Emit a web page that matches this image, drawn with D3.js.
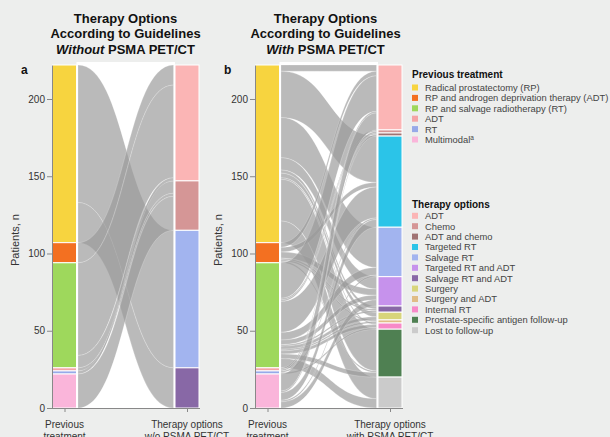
<!DOCTYPE html>
<html>
<head>
<meta charset="utf-8">
<script src="https://cdn.jsdelivr.net/npm/d3@7"></script>
<style>
  body { margin: 0; background: #edeeed; }
  svg { display: block; font-family: "Liberation Sans", Arial, sans-serif; }
</style>
</head>
<body>
<svg id="chart" width="610" height="437"></svg>
<script>
// previous treatment strata (left axis, top to bottom)
const previousTreatments = [
  "Radical prostatectomy (RP)",
  "RP and androgen deprivation therapy (ADT)",
  "RP and salvage radiotherapy (RT)",
  "ADT",
  "RT",
  "Multimodal"
];
const previousColors = ["#f7d43f", "#f37021", "#9ed85c", "#f5a4a6", "#97a9e8", "#fab5da"];

// therapy options strata (right axis, top to bottom)
const therapyOptions = [
  "ADT", "Chemo", "ADT and chemo", "Targeted RT", "Salvage RT",
  "Targeted RT and ADT", "Salvage RT and ADT", "Surgery", "Surgery and ADT",
  "Internal RT", "Prostate-specific antigen follow-up", "Lost to follow-up"
];
const therapyColors = [
  "#fbb5b5", "#d59696", "#a07373", "#2bc4e8", "#a2b4ef",
  "#c692ec", "#8868a6", "#d8d57b", "#e0bd86",
  "#f78ac8", "#4f8052", "#cbcbcb"
];

const optionsWithout = ["ADT", "Chemo", "Salvage RT", "Salvage RT and ADT"];

// patients: rows = previous treatment, columns = option
const flowsWithout = [
  [0, 0, 89, 26],
  [13, 0, 0, 0],
  [60, 8, 0, 0],
  [0, 2, 0, 0],
  [2, 0, 0, 0],
  [0, 22, 0, 0]
];
const flowsWith = [
  [4, 0, 0, 30, 26, 8, 2, 3, 0, 1, 27, 14],
  [3, 0, 0, 3, 0, 4, 1, 0, 1, 0, 1, 0],
  [23, 1, 1, 20, 5, 3, 1, 2, 1, 2, 3, 6],
  [1, 1, 0, 0, 0, 0, 0, 0, 0, 0, 0, 0],
  [0, 0, 0, 1, 0, 0, 0, 0, 0, 1, 0, 0],
  [11, 0, 1, 5, 1, 4, 0, 0, 0, 0, 0, 0]
];

const yTicks = [0, 50, 100, 150, 200];

const svg = d3.select("#chart");
const baseY = 408, topY = 65;
const barW = 24;

function drawPanel(opts) {
  const g = svg.append("g");
  const flows = opts.flows;
  const rightNames = opts.rightNames;
  const rightColors = rightNames.map(n => therapyColors[therapyOptions.indexOf(n)]);
  const leftTotals = flows.map(r => d3.sum(r));
  const rightTotals = rightNames.map((_, j) => d3.sum(flows, r => r[j]));
  const total = d3.sum(leftTotals);

  const y = d3.scaleLinear().domain([0, total]).range([baseY, topY]);
  const x = d3.scaleLinear().domain([0, 1]).range([opts.axisX + 12.5, opts.axisX + 135]);

  const xl = x(0) + barW / 2, xr = x(1) - barW / 2;

  // white area between the two bars
  g.append("rect")
    .attr("x", xl).attr("y", 62)
    .attr("width", xr - xl).attr("height", baseY - 62)
    .attr("fill", "#fff");

  // stack starting positions (value measured from top)
  const leftStart = Array.from(d3.cumsum([0].concat(leftTotals.slice(0, -1))));
  const rightStart = Array.from(d3.cumsum([0].concat(rightTotals.slice(0, -1))));

  const leftOff = leftStart.slice();
  const rightOff = rightStart.slice();
  const lodes = [];
  flows.forEach((row, i) => {
    row.forEach((v, j) => {
      if (v > 0) lodes.push({ i, j, v, l0: leftOff[i], r0: 0 });
      leftOff[i] += v;
    });
  });
  // right ordering: by left stratum
  rightNames.forEach((_, j) => {
    lodes.filter(d => d.j === j).sort((a, b) => a.i - b.i).forEach(d => {
      d.r0 = rightOff[j];
      rightOff[j] += d.v;
    });
  });

  const yv = v => y(total - v);
  const fx0 = xl + 1.5, fx1 = xr - 1.5, fm = (fx0 + fx1) / 2;

  g.append("g").selectAll("path")
    .data(lodes)
    .join("path")
    .attr("d", d => {
      const lt = yv(d.l0), lb = yv(d.l0 + d.v);
      const rt = yv(d.r0), rb = yv(d.r0 + d.v);
      return `M${fx0},${lt}C${fm},${lt} ${fm},${rt} ${fx1},${rt}` +
        `L${fx1},${rb}C${fm},${rb} ${fm},${lb} ${fx0},${lb}Z`;
    })
    .attr("fill", "#999")
    .attr("fill-opacity", 0.68)
    .attr("stroke", "#fff")
    .attr("stroke-opacity", 0.35)
    .attr("stroke-width", 0.6);

  // strata
  const stratum = (sel, cx) => sel
    .attr("x", cx - barW / 2).attr("width", barW)
    .attr("y", d => yv(d.s)).attr("height", d => yv(d.s + d.v) - yv(d.s))
    .attr("fill", d => d.c)
    .attr("stroke", "#fff").attr("stroke-width", 1);

  g.append("g").selectAll("rect")
    .data(leftTotals.map((v, i) => ({ v, s: leftStart[i], c: previousColors[i] })))
    .join("rect")
    .call(stratum, x(0));

  g.append("g").selectAll("rect")
    .data(rightTotals.map((v, j) => ({ v, s: rightStart[j], c: rightColors[j] })))
    .join("rect")
    .call(stratum, x(1));

  // y axis
  const ya = g.append("g")
    .attr("transform", `translate(${opts.axisX},0)`)
    .call(d3.axisLeft(y).tickValues(yTicks).tickSize(5).tickSizeOuter(0));
  ya.select(".domain").attr("stroke", "#888");
  ya.selectAll(".tick line").attr("stroke", "#888");
  ya.selectAll(".tick text").attr("fill", "#333").style("font-size", "10px")
    .attr("x", -7);

  // x axis
  const xa = g.append("g")
    .attr("transform", `translate(0,${baseY})`)
    .call(d3.axisBottom(x).tickValues([0, 1]).tickSize(4).tickFormat(""));
  xa.select(".domain").remove();
  xa.selectAll(".tick line").attr("stroke", "#888");
  g.append("line")
    .attr("x1", opts.axisX).attr("x2", opts.axisX + 148)
    .attr("y1", baseY + 0.5).attr("y2", baseY + 0.5)
    .attr("stroke", "#888");

  opts.xLabels.forEach((lines, k) => {
    const t = g.append("text")
      .attr("x", x(k)).attr("y", 428)
      .attr("text-anchor", "middle")
      .attr("fill", "#333")
      .style("font-size", "10px");
    lines.forEach((ln, m) => t.append("tspan").attr("x", x(k)).attr("dy", m ? 12 : 0).text(ln));
  });

  // axis title
  g.append("text")
    .attr("transform", `translate(${opts.axisX - 33},240) rotate(-90)`)
    .attr("text-anchor", "middle")
    .attr("fill", "#333")
    .style("font-size", "11px")
    .text("Patients, n");

  // panel letter
  g.append("text")
    .attr("x", opts.axisX - 31).attr("y", 74)
    .attr("fill", "#111")
    .style("font-size", "12px").style("font-weight", "bold")
    .text(opts.letter);

  // title
  const title = g.append("text")
    .attr("text-anchor", "middle")
    .attr("fill", "#111")
    .style("font-size", "13px").style("font-weight", "bold");
  title.append("tspan").attr("x", opts.titleX).attr("y", 22.5).text("Therapy Options");
  title.append("tspan").attr("x", opts.titleX).attr("y", 38).text("According to Guidelines");
  const l3 = title.append("tspan").attr("x", opts.titleX).attr("y", 53.5);
  l3.append("tspan").style("font-style", "italic").text(opts.titleWord);
  l3.append("tspan").text(" PSMA PET/CT");
}

drawPanel({
  axisX: 52, flows: flowsWithout, rightNames: optionsWithout,
  letter: "a", titleX: 125.5, titleWord: "Without",
  xLabels: [["Previous", "treatment"], ["Therapy options", "w/o PSMA PET/CT"]]
});
drawPanel({
  axisX: 255, flows: flowsWith, rightNames: therapyOptions,
  letter: "b", titleX: 325.5, titleWord: "With",
  xLabels: [["Previous", "treatment"], ["Therapy options", "with PSMA PET/CT"]]
});

// legends
function drawLegend(heading, names, colors, headY, firstY) {
  const g = svg.append("g");
  g.append("text")
    .attr("x", 412).attr("y", headY)
    .attr("fill", "#111")
    .style("font-size", "10px").style("font-weight", "bold")
    .text(heading);
  const item = g.selectAll("g.item")
    .data(names)
    .join("g")
    .attr("class", "item")
    .attr("transform", (d, i) => `translate(412,${firstY + i * 10.4})`);
  item.append("rect")
    .attr("x", 0).attr("y", -3).attr("width", 6).attr("height", 6)
    .attr("fill", (d, i) => colors[i]);
  const t = item.append("text")
    .attr("x", 13).attr("y", 3.4)
    .attr("fill", "#444")
    .style("font-size", "9.4px")
    .text(d => d);
  t.filter(d => d === "Multimodal")
    .append("tspan").attr("dy", -3).style("font-size", "6.5px").text("a");
}

drawLegend("Previous treatment", previousTreatments, previousColors, 77.5, 87.5);
drawLegend("Therapy options", therapyOptions, therapyColors, 208, 215.8);
</script>
</body>
</html>
